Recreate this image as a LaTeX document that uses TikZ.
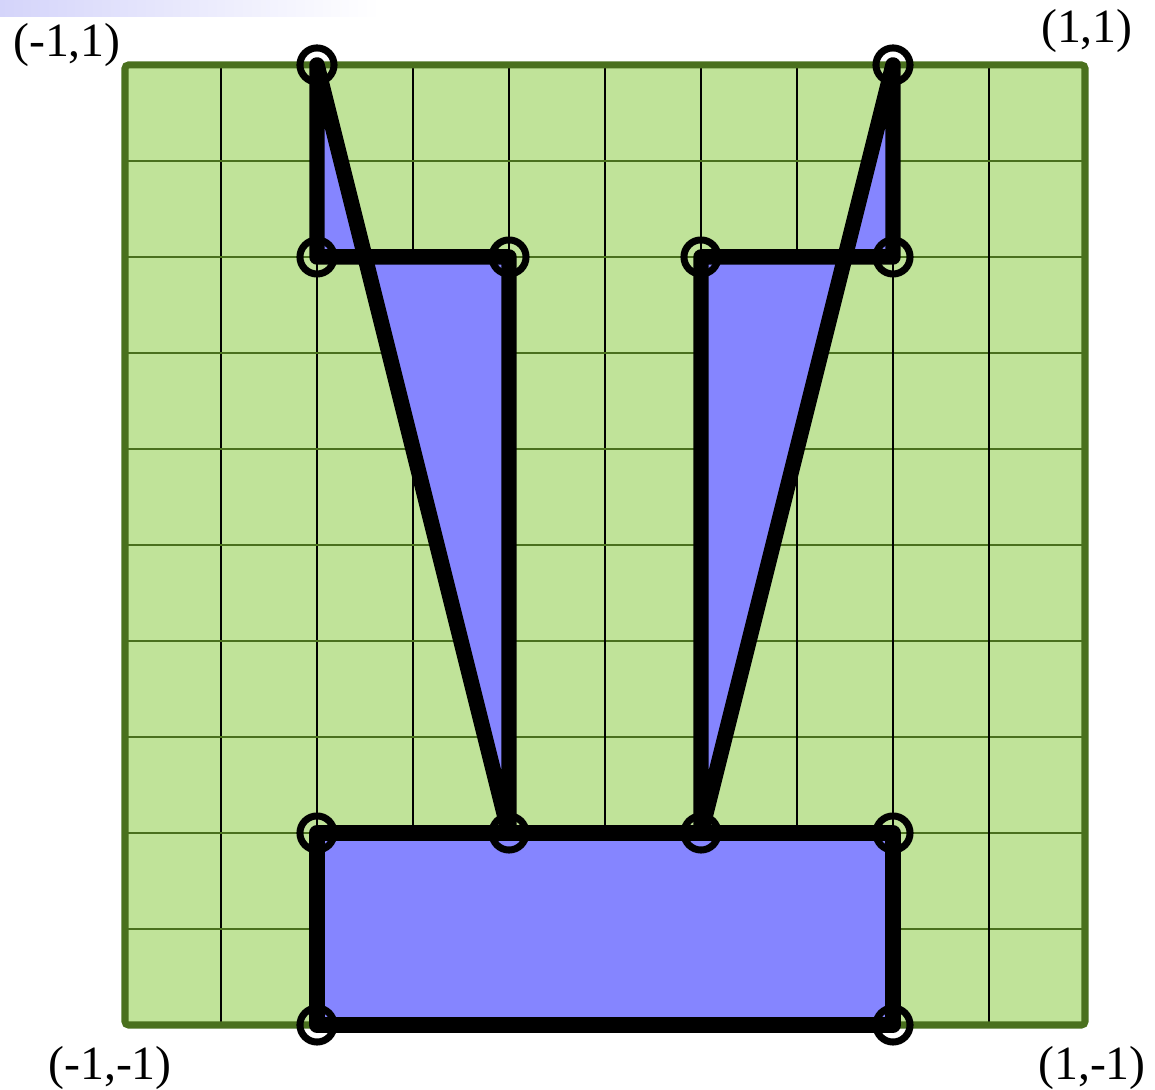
\documentclass[tikz,border=0pt]{standalone}
\usepackage{fontspec}
\setmainfont{Liberation Serif}
\definecolor{cellgreen}{RGB}{192,227,153}
\definecolor{edgegreen}{RGB}{74,112,30}
\definecolor{shapeblue}{RGB}{133,133,255}
\definecolor{barlav}{RGB}{212,212,250}

\begin{document}
\begin{tikzpicture}[x=4.8cm,y=4.8cm,
  poly/.style={fill=shapeblue,line width=4.4pt,line join=round,line cap=round},
  vert/.style={line width=2pt},
  lab/.style={font=\fontsize{13.6}{15}\selectfont,inner sep=0pt}]

  \useasboundingbox (-1.2604,-1.1354) rectangle (1.1458,1.1354);

  % fading bar top left
  \shade[left color=barlav,right color=white] (-1.2604,1.1354) rectangle (-0.47,1.102);

  % square with grid
  \fill[cellgreen] (-1,-1) rectangle (1,1);
  \foreach \i in {1,...,9}{
    \draw[black,line width=0.6pt] ({-1+\i/5},-1) -- ({-1+\i/5},1);
    \draw[edgegreen,line width=0.6pt] (-1,{-1+\i/5}) -- (1,{-1+\i/5});
  }
  \draw[edgegreen,line width=2pt,rounded corners=1pt] (-1,-1) rectangle (1,1);

  \coordinate (tl) at (-0.6,1);
  \coordinate (lm) at (-0.6,0.6);
  \coordinate (lc) at (-0.2,0.6);
  \coordinate (lb) at (-0.2,-0.6);
  \coordinate (tr) at (0.6,1);
  \coordinate (rm) at (0.6,0.6);
  \coordinate (rc) at (0.2,0.6);
  \coordinate (rb) at (0.2,-0.6);
  \coordinate (bl) at (-0.6,-0.6);
  \coordinate (br) at (0.6,-0.6);
  \coordinate (ll) at (-0.6,-1);
  \coordinate (lr) at (0.6,-1);

  \draw[poly] (tl) -- (lm) -- (lc) -- (lb) -- cycle;
  \draw[poly] (tr) -- (rm) -- (rc) -- (rb) -- cycle;
  \draw[poly] (bl) -- (br) -- (lr) -- (ll) -- cycle;

  \foreach \v in {tl,lm,lc,lb,tr,rm,rc,rb,bl,br,ll,lr}{
    \draw[vert] (\v) circle (0.0355);
  }

  \node[lab] (nwlab) at (-1.1208,1.0417) {(-1,1)};
  \node[lab] (nelab) at (1.004,1.0708) {(1,1)};
  \node[lab] (swlab) at (-1.031,-1.0896) {(-1,-1)};
  \node[lab] (selab) at (1.0146,-1.0896) {(1,-1)};

\end{tikzpicture}
\end{document}
